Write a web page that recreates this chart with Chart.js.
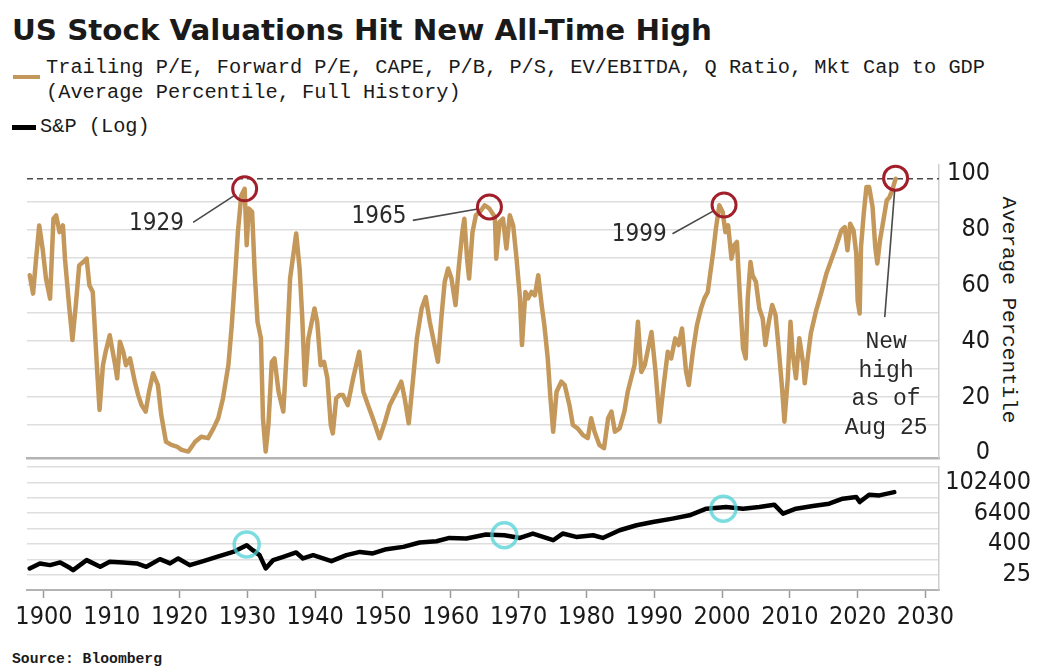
<!DOCTYPE html>
<html><head><meta charset="utf-8">
<script src="https://cdn.jsdelivr.net/npm/chart.js@4.4.0/dist/chart.umd.min.js"></script>
<style>
html,body{margin:0;padding:0;background:#fff;}
body{width:1037px;height:668px;overflow:hidden;position:relative;color:#1a1a1a;}
.t{position:absolute;white-space:nowrap;transform-origin:0 50%;}
.mono{font-family:'Liberation Mono','DejaVu Sans Mono',monospace;}
.wrap{position:absolute;left:0;width:1037px;}
</style></head><body>
<div id="title" class="t" style="left:12px;top:12px;font:bold 29px 'DejaVu Sans Condensed','DejaVu Sans',sans-serif;line-height:36px;">US Stock Valuations Hit New All-Time High</div>
<div style="position:absolute;left:13px;top:75px;width:27px;height:4px;background:#c4985a"></div>
<div id="leg1" class="t mono" style="left:46px;top:56px;font-size:20px;line-height:24px;">Trailing P/E, Forward P/E, CAPE, P/B, P/S, EV/EBITDA, Q Ratio, Mkt Cap to GDP</div>
<div id="leg2" class="t mono" style="left:46px;top:81px;font-size:20px;line-height:24px;">(Average Percentile, Full History)</div>
<div style="position:absolute;left:12px;top:125px;width:24px;height:5px;background:#000"></div>
<div id="leg3" class="t mono" style="left:40px;top:115px;font-size:20px;line-height:24px;">S&amp;P (Log)</div>
<div id="ytitle" class="mono" style="position:absolute;left:1008px;top:310px;font-size:21px;white-space:nowrap;transform:translate(-50%,-50%) rotate(90deg);">Average Percentile</div>
<div id="src" class="t mono" style="left:12px;top:650px;font-size:15px;font-weight:bold;line-height:20px;">Source: Bloomberg</div>
<div class="wrap" style="top:148px;height:325px;"><canvas id="top"></canvas></div>
<div class="wrap" style="top:448px;height:192px;"><canvas id="bot"></canvas></div>
<script>
// ---------- data ----------
const pctYears = [1897.9,1898.4,1898.8,1899.3,1899.8,1900.3,1900.9,1901.4,1901.8,1902.3,1902.8,1903.1,1903.7,1904.2,1904.7,1905.2,1905.8,1906.3,1906.7,1907.2,1907.8,1908.2,1908.7,1909.1,1909.7,1910.5,1910.8,1911.2,1911.7,1912.1,1912.7,1913.4,1913.9,1914.4,1915.0,1915.5,1916.1,1916.8,1917.3,1918.0,1918.8,1919.6,1920.3,1921.3,1922.3,1923.2,1924.2,1925.0,1925.7,1926.4,1927.2,1927.7,1928.2,1928.6,1929.1,1929.6,1929.9,1930.2,1930.7,1931.1,1931.5,1932.0,1932.3,1932.7,1933.1,1933.6,1934.0,1934.6,1935.3,1935.8,1936.3,1936.9,1937.2,1937.7,1938.1,1938.5,1939.0,1939.5,1939.9,1940.3,1940.8,1941.3,1941.8,1942.3,1942.6,1943.1,1943.6,1944.1,1944.8,1945.6,1946.5,1947.1,1947.8,1948.5,1949.5,1950.3,1951.0,1952.0,1952.7,1953.2,1953.8,1954.4,1955.0,1955.7,1956.3,1956.9,1957.6,1958.1,1958.6,1959.1,1959.6,1960.1,1960.7,1961.2,1961.7,1962.0,1962.4,1962.7,1963.2,1963.7,1964.3,1965.0,1965.7,1966.5,1966.7,1967.2,1967.7,1968.2,1968.7,1969.2,1969.7,1970.2,1970.5,1971.0,1971.4,1971.9,1972.4,1972.9,1973.4,1973.8,1974.3,1974.7,1975.1,1975.6,1976.3,1976.8,1977.5,1978.0,1978.7,1979.5,1980.2,1980.7,1981.2,1981.9,1982.6,1983.2,1983.7,1984.2,1984.9,1985.6,1986.1,1986.6,1987.1,1987.6,1988.1,1988.6,1989.6,1990.2,1990.8,1991.4,1992.0,1992.5,1993.1,1993.6,1994.1,1994.7,1995.1,1995.7,1996.3,1996.9,1997.4,1997.9,1998.3,1998.7,1999.1,1999.6,2000.1,2000.5,2000.9,2001.4,2001.8,2002.2,2002.6,2003.1,2003.5,2003.8,2004.2,2004.5,2005.0,2005.5,2006.0,2006.4,2006.9,2007.4,2007.9,2008.4,2008.9,2009.2,2009.7,2010.1,2010.4,2010.9,2011.4,2012.0,2012.2,2012.6,2013.1,2013.9,2014.6,2015.4,2016.1,2016.8,2017.6,2018.1,2018.5,2018.9,2019.4,2019.8,2020.0,2020.3,2020.5,2020.9,2021.3,2021.7,2022.2,2022.6,2022.9,2023.3,2023.8,2024.3,2024.7,2025.1,2025.6];
const pctValues = [63.6,57.0,68.3,81.4,73.1,62.4,55.2,83.8,85.0,79.0,81.4,69.5,52.9,40.4,52.9,67.1,68.3,69.5,60.0,57.6,31.4,15.4,31.4,36.2,42.1,31.4,26.7,39.8,36.2,31.4,33.8,25.5,20.7,17.1,14.8,21.9,28.5,24.3,13.6,4.0,2.9,2.3,1.1,0.5,4.0,5.8,5.3,8.8,12.4,19.5,31.4,45.7,63.6,79.0,92.1,94.5,74.3,87.4,86.2,63.6,46.9,41.0,12.4,0.5,10.0,32.6,33.8,21.9,14.8,36.2,62.4,73.1,78.5,66.0,48.1,24.3,41.0,46.9,51.7,46.9,31.4,32.6,26.7,10.0,7.0,19.5,20.7,20.7,17.1,26.7,36.2,21.9,17.1,12.4,5.3,11.2,17.1,21.9,25.5,19.5,10.6,25.5,41.0,51.7,55.8,46.9,38.6,32.6,48.1,61.2,66.0,62.4,52.9,67.1,79.0,83.8,69.5,62.4,79.0,85.0,86.2,88.6,87.4,84.4,69.5,82.6,83.8,73.1,85.0,81.4,69.5,55.3,38.6,57.6,55.3,57.6,56.4,63.6,52.9,45.7,33.8,19.5,7.6,21.9,25.5,24.3,17.1,10.0,8.8,6.4,5.3,12.4,7.6,2.9,1.7,12.4,14.8,7.6,8.8,14.8,21.9,26.7,31.4,46.9,29.0,31.4,43.3,29.0,11.2,24.3,36.2,33.8,41.0,38.6,44.5,29.0,24.3,36.2,45.7,51.7,55.3,57.6,64.8,71.9,80.3,88.6,86.2,79.0,81.4,69.5,74.3,75.5,57.6,37.4,33.8,55.3,68.3,63.6,61.2,51.7,48.1,38.6,46.9,52.9,49.3,36.2,21.9,11.2,26.7,46.9,36.2,26.7,41.0,31.4,24.9,33.2,42.8,51.1,57.0,64.2,68.9,73.7,79.6,80.8,72.5,82.0,79.6,71.3,54.6,49.9,73.7,85.6,95.1,95.1,88.0,73.7,67.8,76.1,83.2,90.4,91.5,93.9,98.1];

const spxYears = [1897.9,1899.4,1900.9,1902.4,1903.8,1904.3,1906.3,1908.3,1909.7,1911.7,1913.7,1915.1,1917.1,1918.6,1919.8,1921.5,1923.5,1925.5,1927.9,1929.9,1930.8,1931.8,1932.7,1933.8,1935.3,1937.2,1938.2,1939.7,1942.4,1944.6,1946.6,1948.5,1950.5,1953.0,1955.4,1957.9,1959.8,1962.3,1965.2,1967.9,1970.2,1972.1,1975.1,1976.5,1978.5,1981.0,1982.4,1984.9,1987.4,1989.8,1992.7,1995.2,1997.7,2000.6,2003.1,2005.5,2007.7,2009.0,2010.9,2013.4,2015.8,2017.8,2019.8,2020.3,2021.7,2023.2,2025.4];
const spxValues = [43.8,68.7,58.9,75.1,46.3,37.6,92.4,50.6,79.3,75.1,68.7,50.6,101,68.7,107.6,58.9,84.4,124,194,355,227,145,43.8,92.4,124,184,107.6,145,84.4,145,194,168.5,248,305,452,509,684,648,927,872,684,1015,556,1015,748,872,684,1366,2141,2877,3906,5252,9570,11068,9570,11068,13720,6114,9570,12090,15000,23520,27150,17325,33640,31600,42500];

const xTickYears = [1900,1910,1920,1930,1940,1950,1960,1970,1980,1990,2000,2010,2020,2030];
const pctTicks = [0,10,20,30,40,50,60,70,80,90,100];
const pctLabelStep = 20;
const spxTicks = [6.25,25,100,400,1600,6400,25600,102400,409600];
const spxLabelled = [25,400,6400,102400];

// annotations (data coordinates)
const peakYears  = [1929.6, 1965.7, 2000.3, 2025.6];
const peakValues = [94.5, 88.0, 88.7, 98.3];
const peakTexts  = ['1929', '1965', '1999', 'New|high|as of|Aug 25'];
const textYears  = [1916.6, 1949.4, 1987.8, 2024.2];
const textValues = [82.1, 84.6, 78.2, 39.6];
const leadYears  = [1922.0, 1954.4, 1992.7, 2024.0];
const leadValues = [82.5, 83.2, 78.4, 48.6];
const spxMarkYears  = [1929.9, 1967.9, 2000.2];
const spxMarkValues = [379, 872, 9594];

// ---------- helpers ----------
function fit(id, w){ const el=document.getElementById(id); const r=el.getBoundingClientRect().width; el.style.transform='scaleX('+(w/r)+')'; return w/r; }
const s1 = fit('leg1', 939);
document.getElementById('leg2').style.transform='scaleX('+s1+')';
document.getElementById('leg3').style.transform='scaleX('+s1+')';
fit('title', 700);
fit('src', 150);

const TAN = '#c4985a';
const tickFont = {family:"'Liberation Sans Narrow','DejaVu Sans Condensed',sans-serif", size:25};
const X_MIN = 1897.5, X_MAX = 2032;

const annot = {
  id:'annot',
  beforeDatasetsDraw(chart, a, o){
    if(o.dashValue==null) return;
    const {ctx, chartArea:ca, scales:{y}} = chart;
    const py = y.getPixelForValue(o.dashValue);
    ctx.save(); ctx.strokeStyle='#4a4a4a'; ctx.lineWidth=1.5; ctx.setLineDash([6,4]);
    ctx.beginPath(); ctx.moveTo(ca.left, py); ctx.lineTo(ca.right, py); ctx.stroke(); ctx.restore();
  },
  afterDatasetsDraw(chart, a, o){
    const {ctx, scales:{x, y}} = chart;
    ctx.save();
    (o.circles||[]).forEach(c=>{
      const cx=x.getPixelForValue(c.x), cy=y.getPixelForValue(c.y);
      if(c.lead){
        const lx=x.getPixelForValue(c.lead[0]), ly=y.getPixelForValue(c.lead[1]);
        const d=Math.hypot(cx-lx, cy-ly), r=o.radius;
        ctx.strokeStyle='#4a4a4a'; ctx.lineWidth=1.6;
        ctx.beginPath(); ctx.moveTo(lx,ly); ctx.lineTo(cx-(cx-lx)*r/d, cy-(cy-ly)*r/d); ctx.stroke();
      }
      ctx.strokeStyle=o.color; ctx.lineWidth=o.width;
      ctx.beginPath(); ctx.arc(cx,cy,o.radius,0,Math.PI*2); ctx.stroke();
      if(c.text){
        const tx=x.getPixelForValue(c.tx), ty=y.getPixelForValue(c.ty);
        const lines=c.text.split('|');
        ctx.fillStyle='#2a2a2a'; ctx.textAlign='center'; ctx.textBaseline='middle';
        ctx.font = lines.length>1 ? "23px 'Liberation Mono','DejaVu Sans Mono',monospace" : "24px 'DejaVu Sans Condensed','DejaVu Sans',sans-serif";
        lines.forEach((l,i)=>ctx.fillText(l, tx, ty+i*28.5));
      }
    });
    ctx.restore();
  }
};

const topCircles = peakYears.map((yr,i)=>({x:yr, y:peakValues[i], text:peakTexts[i], tx:textYears[i], ty:textValues[i], lead:[leadYears[i], leadValues[i]]}));
const botCircles = spxMarkYears.map((yr,i)=>({x:yr, y:spxMarkValues[i]}));

new Chart(document.getElementById('top'), {
  type:'line',
  data:{datasets:[{data:pctYears.map((yr,i)=>({x:yr,y:pctValues[i]})), borderColor:TAN, borderWidth:4.5, pointRadius:0, tension:0, borderJoinStyle:'round', borderCapStyle:'round'}]},
  options:{
    responsive:true, maintainAspectRatio:false, animation:false, events:[],
    layout:{padding:{left:27, right:47, top:17, bottom:15}},
    plugins:{legend:{display:false}, tooltip:{enabled:false},
      annot:{dashValue:pctValues[pctValues.length-1], circles:topCircles, color:'#a01f2b', width:3, radius:12}},
    scales:{
      x:{type:'linear', min:X_MIN, max:X_MAX, display:true,
         ticks:{display:false}, grid:{drawOnChartArea:false, drawTicks:false},
         border:{display:true, color:'#b3b3b3', width:2.5},
         afterFit(s){ s.height=0; }},
      y:{type:'linear', position:'right', min:-1.8, max:103,
         afterBuildTicks(s){ s.ticks = pctTicks.map(v=>({value:v})); },
         afterFit(s){ s.width=51; },
         ticks:{crossAlign:'far', color:'#1a1a1a', font:tickFont, padding:0, autoSkip:false,
                callback:(v)=> v%pctLabelStep===0 ? String(v) : ''},
         grid:{drawTicks:false, lineWidth:1.5, color:(c)=> (c.tick && (c.tick.value===100 || c.tick.value===0)) ? 'rgba(0,0,0,0)' : '#dedede'},
         border:{display:true, color:'#cfcfcf', width:1.5}}
    }
  },
  plugins:[annot]
});

new Chart(document.getElementById('bot'), {
  type:'line',
  data:{datasets:[{data:spxYears.map((yr,i)=>({x:yr,y:spxValues[i]})), borderColor:'#000', borderWidth:4.5, pointRadius:0, tension:0, borderJoinStyle:'round', borderCapStyle:'round'}]},
  options:{
    responsive:true, maintainAspectRatio:false, animation:false, events:[],
    layout:{padding:{left:27, right:6, top:19, bottom:2}},
    plugins:{legend:{display:false}, tooltip:{enabled:false},
      annot:{circles:botCircles, color:'rgba(80,210,215,0.75)', width:3.5, radius:12.5}},
    scales:{
      x:{type:'linear', min:X_MIN, max:X_MAX,
         afterBuildTicks(s){ s.ticks = xTickYears.map(v=>({value:v})); },
         afterFit(s){ s.height=48; },
         ticks:{color:'#1a1a1a', font:tickFont, padding:4, autoSkip:false, maxRotation:0, callback:(v)=>String(v)},
         grid:{drawOnChartArea:false, drawTicks:true, tickLength:8, tickColor:'#9a9a9a', tickWidth:1.5},
         border:{display:true, color:'#b3b3b3', width:2}},
      y:{type:'logarithmic', position:'right', min:6.25, max:409600,
         afterBuildTicks(s){ s.ticks = spxTicks.map(v=>({value:v})); },
         afterFit(s){ s.width=92; },
         ticks:{crossAlign:'far', color:'#1a1a1a', font:tickFont, padding:0, autoSkip:false,
                callback:(v)=> spxLabelled.includes(v) ? String(v) : ''},
         grid:{drawTicks:false, lineWidth:1.5, color:'#dedede'},
         border:{display:true, color:'#cfcfcf', width:1.5}}
    }
  },
  plugins:[annot]
});
</script>
</body></html>
